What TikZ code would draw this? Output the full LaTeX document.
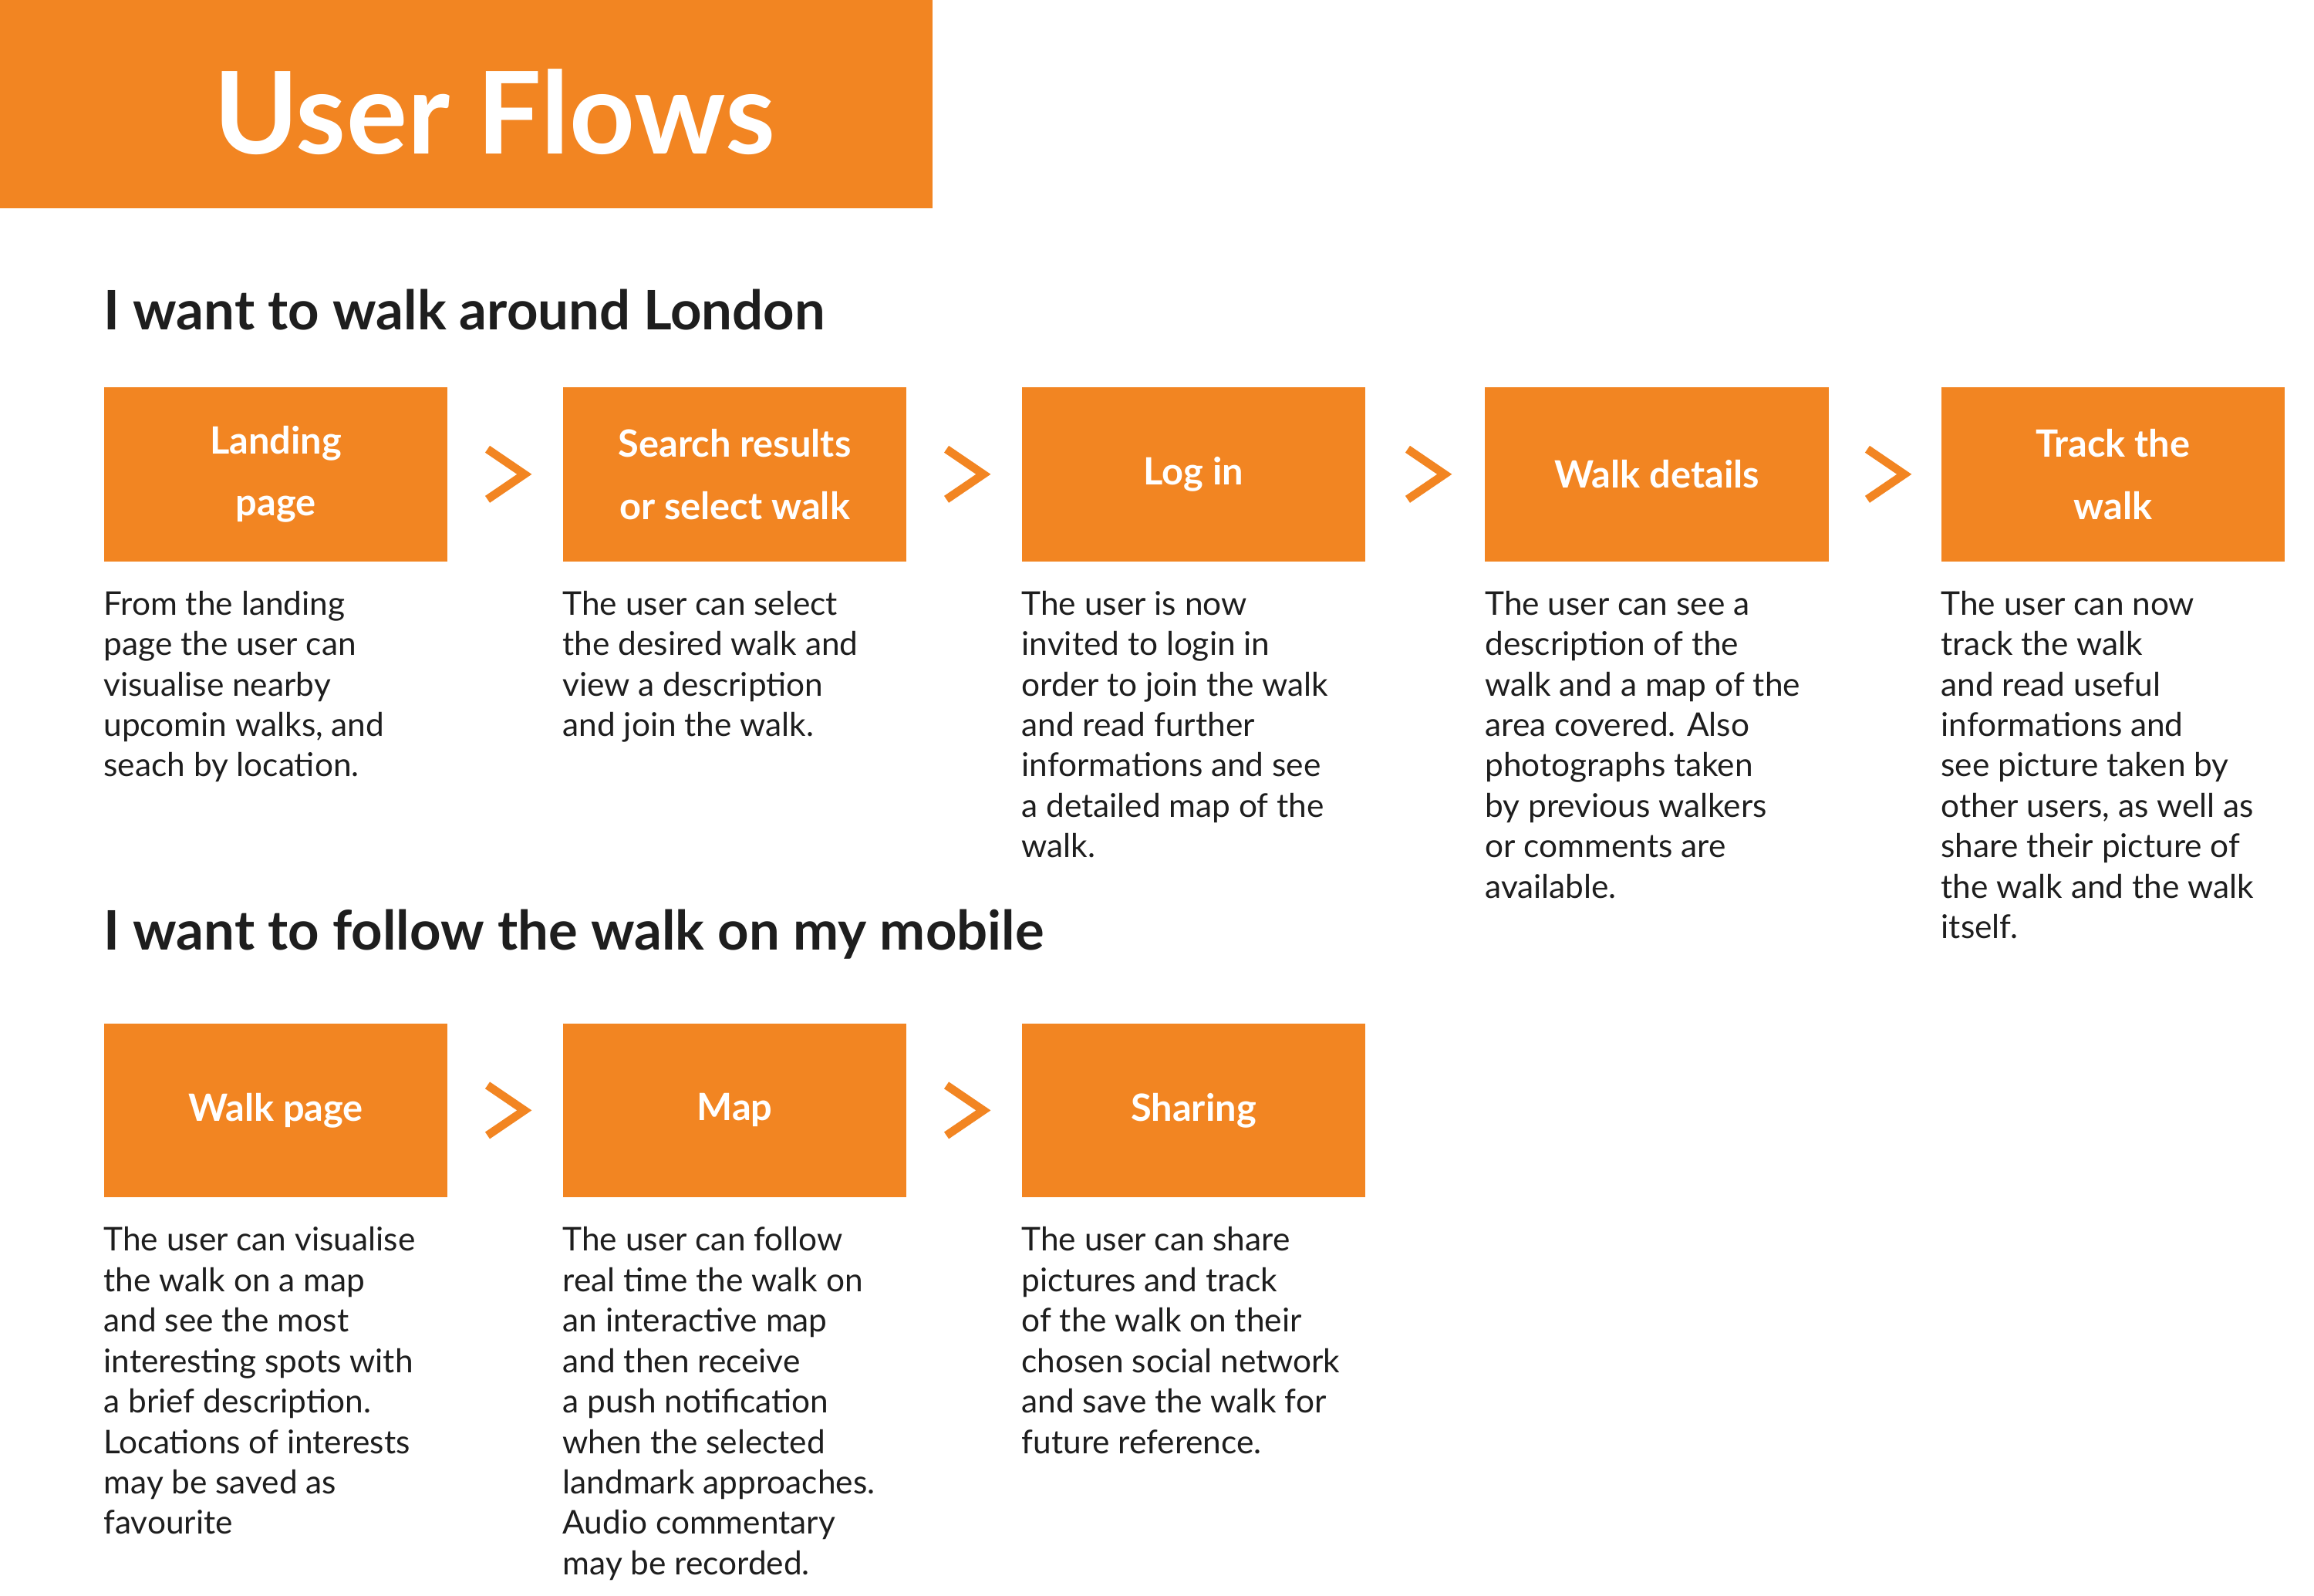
\documentclass[tikz,border=0pt]{standalone}
\usepackage{fontspec}
\setmainfont{Lato}
\usetikzlibrary{calc}
\definecolor{flow}{RGB}{242,133,34}
\definecolor{ink}{RGB}{30,30,30}

\tikzset{
  stepbox/.style={fill=flow,minimum width=4.66cm,minimum height=2.36cm,anchor=north west,text=white,align=center,
    font=\fontsize{14.5}{24}\selectfont\bfseries},
  desc/.style={anchor=north west,align=left,inner sep=0pt,text=ink,font=\fontsize{12.6}{15.6}\selectfont},
  heading/.style={anchor=west,inner sep=0pt,text=ink,font=\fontsize{21}{25}\selectfont\bfseries},
  chev/.style={draw=flow,line width=3.2pt,line cap=butt,line join=miter}
}
\newcommand{\chevron}[2]{%
  \coordinate (m) at ($(#1.east)!0.5!(#2.west)$);
  \draw[chev] ($(m)+(-12,-17)$) -- ($(m)+(13,0)$) -- ($(m)+(-12,17)$);}

\begin{document}
\begin{tikzpicture}[x=0.02cm,y=-0.02cm]
    \useasboundingbox[fill=white] (0,0) rectangle (1568,1081);

    \fill[flow] (0,0) rectangle (632,141);
    \node[text=white,font=\fontsize{44}{50}\selectfont\bfseries] (title) at (335,76) {User Flows};

    \node[heading] (h1) at (70,210) {I want to walk around London};

    % first flow
    \node[stepbox] (land) at (70,262) {Landing\\page};
    \node[stepbox] (srch) at (381,262) {Search results\\or select walk};
    \node[stepbox] (login) at (692,262) {Log in};
    \node[stepbox] (wdet) at (1006,262) {Walk details};
    \node[stepbox] (track) at (1315,262) {Track the\\walk};
    \chevron{land}{srch}
    \chevron{srch}{login}
    \chevron{login}{wdet}
    \chevron{wdet}{track}

    \node[desc] (dland) at (70,400) {From the landing\\page the user can\\visualise nearby\\upcomin walks, and\\seach by location.};
    \node[desc] (dsrch) at (381,400) {The user can select\\the desired walk and\\view a description\\and join the walk.};
    \node[desc] (dlogin) at (692,400) {The user is now\\invited to login in\\order to join the walk\\and read further\\informations and see\\a detailed map of the\\walk.};
    \node[desc] (dwdet) at (1006,400) {The user can see a\\description of the\\walk and a map of the\\area covered. Also\\photographs taken\\by previous walkers\\or comments are\\available.};
    \node[desc] (dtrack) at (1315,400) {The user can now\\track the walk\\and read useful\\informations and\\see picture taken by\\other users, as well as\\share their picture of\\the walk and the walk\\itself.};

    \node[heading] (h2) at (70,633) {I want to follow the walk on my mobile};

    % second flow
    \node[stepbox] (wpage) at (70,693) {Walk page};
    \node[stepbox] (map) at (381,693) {Map};
    \node[stepbox] (share) at (692,693) {Sharing};
    \chevron{wpage}{map}
    \chevron{map}{share}

    \node[desc] (dwpage) at (70,831) {The user can visualise\\the walk on a map\\and see the most\\interesting spots with\\a brief description.\\Locations of interests\\may be saved as\\favourite};
    \node[desc] (dmap) at (381,831) {The user can follow\\real time the walk on\\an interactive map\\and then receive\\a push notification\\when the selected\\landmark approaches.\\Audio commentary\\may be recorded.};
    \node[desc] (dshare) at (692,831) {The user can share\\pictures and track\\of the walk on their\\chosen social network\\and save the walk for\\future reference.};
\end{tikzpicture}
\end{document}
